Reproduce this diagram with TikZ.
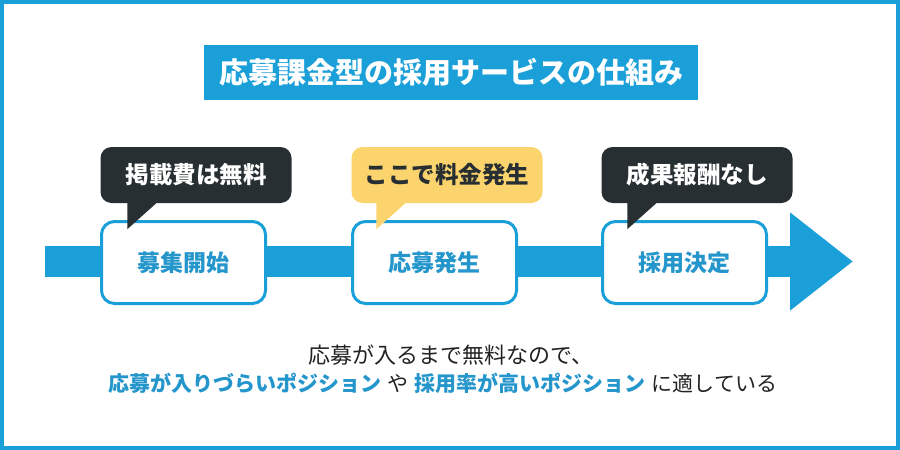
\documentclass[tikz,border=0pt]{standalone}
\usepackage{fontspec}
\newfontfamily\jp{Noto Sans CJK JP}
\usetikzlibrary{arrows.meta,calc}
\definecolor{bluec}{HTML}{1A9FD8}
\definecolor{textblue}{HTML}{2596CC}
\definecolor{darkc}{HTML}{272F32}
\definecolor{yellowc}{HTML}{FBD46D}
\definecolor{inkc}{HTML}{222222}
\tikzset{
  stage/.style={draw=bluec, line width=3pt, fill=white, rounded corners=13pt,
    minimum width=164pt, minimum height=82pt, text=textblue, inner sep=0pt,
    font=\jp\bfseries\fontsize{23}{26}\selectfont},
  callout/.style={rounded corners=11pt, minimum width=191pt, minimum height=56pt,
    inner sep=0pt, font=\jp\bfseries\fontsize{23.5}{26}\selectfont},
  darkcall/.style={callout, fill=darkc, text=white},
  yellowcall/.style={callout, fill=yellowc, text=darkc},
}
\begin{document}
\begin{tikzpicture}[x=1pt,y=-1pt]
\fill[white] (0,0) rectangle (900,450);
\useasboundingbox (0,0) rectangle (900,450);
\draw[bluec,line width=4pt] (2,2) rectangle (898,448);
% title
\node[fill=bluec, minimum width=494pt, minimum height=55pt, inner sep=0pt, text=white,
  font=\jp\bfseries\fontsize{29}{32}\selectfont] (title) at (451,72.5) {応募課金型の採用サービスの仕組み};
% arrow
\coordinate (start) at (45,261.5);
\coordinate (tip) at (853,261.5);
\draw[bluec, line width=31pt, -{Triangle[length=63pt,width=94pt]}] (start) -- (tip);
% stages
\node[stage] (b1) at (183.5,262.5) {募集開始};
\node[stage] (b2) at (434.5,262.5) {応募発生};
\node[stage] (b3) at (684.5,262.5) {採用決定};
% callouts
\node[darkcall] (c1) at (196,175) {掲載費は無料};
\node[yellowcall] (c2) at (447,175) {ここで料金発生};
\node[darkcall] (c3) at (697,175) {成果報酬なし};
\fill[darkc] ($(c1.south west)+(27,-8)$) -- ($(c1.south west)+(27,26)$) -- ($(c1.south west)+(56,0)$) -- ($(c1.south west)+(56,-8)$) -- cycle;
\fill[yellowc] ($(c2.south west)+(25,-8)$) -- ($(c2.south west)+(25,26)$) -- ($(c2.south west)+(54,0)$) -- ($(c2.south west)+(54,-8)$) -- cycle;
\fill[darkc] ($(c3.south west)+(26,-8)$) -- ($(c3.south west)+(26,26)$) -- ($(c3.south west)+(55,0)$) -- ($(c3.south west)+(55,-8)$) -- cycle;
% bottom text
\node[text=inkc, font=\jp\fontsize{22}{26}\selectfont, inner sep=0pt] (l1) at (451,355) {応募が入るまで無料なので、};
\node[text=inkc, font=\jp\fontsize{21}{25}\selectfont, inner sep=0pt] (l2) at (443,383)
  {{\color{textblue}\bfseries 応募が入りづらいポジション}\hspace{6pt}や\hspace{6pt}{\color{textblue}\bfseries 採用率が高いポジション}\hspace{6pt}に適している};
\end{tikzpicture}
\end{document}
